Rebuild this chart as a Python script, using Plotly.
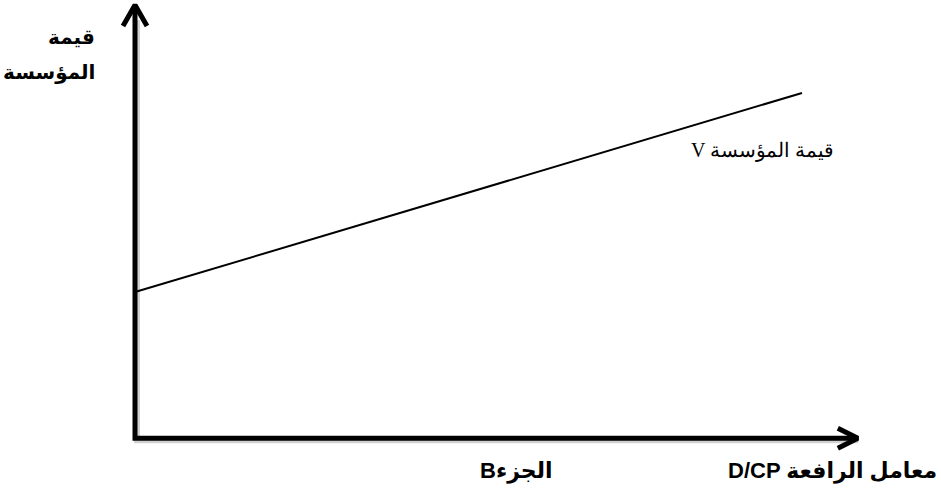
import plotly.graph_objects as go

# Data (leverage vs firm value line)
line_x = [0.0, 9.2]
line_y = [3.34, 7.96]
line_label = "V قيمة المؤسسة"
y_title_lines = ["قيمة", "المؤسسة"]
x_title = "D/CP معامل الرافعة"
part_label = "Bالجزء"

W, H = 941, 490
# pixel mapping: x=0 -> 135px, x=10 -> 860px ; y=0 -> 436px, y=10 -> 5px
px_per_x = (860 - 135) / 10
px_per_y = (436 - 5) / 10
x_range = [-135 / px_per_x, (W - 135) / px_per_x]
y_range = [-(H - 436) / px_per_y, 436 / px_per_y]

fig = go.Figure()

# shadow for axes
sh_dx = 2 / px_per_x
sh_dy = -2 / px_per_y
fig.add_trace(go.Scatter(x=[0 + sh_dx, 0 + sh_dx, 9.95 + sh_dx], y=[9.7 + sh_dy, -0.05 + sh_dy, -0.05 + sh_dy],
                         mode="lines", line=dict(color="rgba(0,0,0,0.18)", width=6),
                         hoverinfo="skip", showlegend=False))

# axes
fig.add_trace(go.Scatter(x=[0, 0, 9.97], y=[9.95, -0.05, -0.05], mode="lines",
                         line=dict(color="black", width=5), hoverinfo="skip", showlegend=False))
# arrow heads
ax = 12 / px_per_x
ay = 21 / px_per_y
fig.add_trace(go.Scatter(x=[-ax, 0, ax], y=[10 - ay, 10, 10 - ay], mode="lines",
                         line=dict(color="black", width=5), hoverinfo="skip", showlegend=False))
bx = 20 / px_per_x
by = 10 / px_per_y
fig.add_trace(go.Scatter(x=[9.97 - bx, 9.97, 9.97 - bx], y=[-0.05 + by, -0.05, -0.05 - by], mode="lines",
                         line=dict(color="black", width=5), hoverinfo="skip", showlegend=False))

# value line
fig.add_trace(go.Scatter(x=line_x, y=line_y, mode="lines",
                         line=dict(color="black", width=2), hoverinfo="skip", showlegend=False))

bold_font = dict(family="Liberation Sans, Arial, DejaVu Sans", size=20, color="black")
ann = []
ann.append(dict(x=97 / W, y=1 - 37 / H, xref="paper", yref="paper", xanchor="right", yanchor="middle",
                text="<b>" + y_title_lines[0] + "</b>", showarrow=False, font=bold_font))
ann.append(dict(x=97 / W, y=1 - 72 / H, xref="paper", yref="paper", xanchor="right", yanchor="middle",
                text="<b>" + y_title_lines[1] + "</b>", showarrow=False, font=bold_font))
ann.append(dict(x=689 / W, y=1 - 151 / H, xref="paper", yref="paper", xanchor="left", yanchor="middle",
                text=line_label, showarrow=False,
                font=dict(family="Liberation Serif, Times New Roman, DejaVu Serif", size=20, color="black")))
ann.append(dict(x=516 / W, y=1 - 471 / H, xref="paper", yref="paper", xanchor="center", yanchor="middle",
                text="<b>" + part_label + "</b>", showarrow=False, font=dict(bold_font, size=22)))
ann.append(dict(x=939 / W, y=1 - 471 / H, xref="paper", yref="paper", xanchor="right", yanchor="middle",
                text="<b>" + x_title + "</b>", showarrow=False, font=dict(bold_font, size=22)))

fig.update_layout(
    width=W, height=H,
    margin=dict(l=0, r=0, t=0, b=0),
    paper_bgcolor="white", plot_bgcolor="white",
    xaxis=dict(range=x_range, visible=False, fixedrange=True),
    yaxis=dict(range=y_range, visible=False, fixedrange=True),
    annotations=ann,
    showlegend=False,
)

fig.write_html("out.html", config={"displayModeBar": False},
               post_script="document.body.style.margin='0';document.body.style.overflow='hidden';")
